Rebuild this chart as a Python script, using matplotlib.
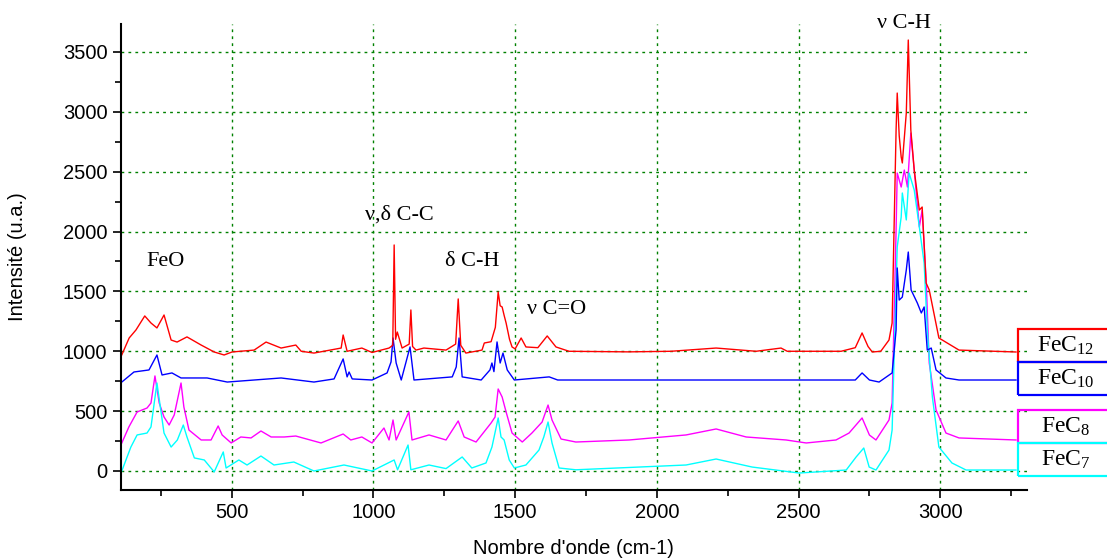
import matplotlib
matplotlib.use('Agg')
import matplotlib.pyplot as plt
from matplotlib.patches import Rectangle
from matplotlib.ticker import MultipleLocator

plt.rcParams['font.family'] = 'Liberation Sans'
plt.rcParams['font.size'] = 14
plt.rcParams['mathtext.fontset'] = 'custom'
plt.rcParams['mathtext.rm'] = 'Liberation Serif'
plt.rcParams['mathtext.it'] = 'Liberation Serif:italic'

# FeC12 (red)
x_c12 = [112, 138, 162, 193, 215, 236, 261, 286, 307, 342, 392, 438, 473, 501, 579, 621, 674,
         726, 745, 790, 886, 893, 907, 959, 995, 1055, 1068, 1073, 1078, 1084, 1101, 1126, 1132,
         1138, 1150, 1178, 1256, 1290, 1299, 1308, 1326, 1383, 1391, 1415, 1430, 1440, 1447, 1454,
         1461, 1468, 1480, 1489, 1500, 1521, 1538, 1580, 1613, 1644, 1690, 1900, 2050, 2209, 2350,
         2438, 2460, 2650, 2700, 2724, 2745, 2760, 2790, 2819, 2830, 2844, 2848, 2855, 2862, 2866,
         2880, 2887, 2896, 2908, 2926, 2936, 2950, 2961, 2995, 3066, 3267]
y_c12 = [970, 1111, 1178, 1295, 1236, 1195, 1303, 1094, 1077, 1120, 1052, 994, 969, 994, 1010, 1077, 1027,
         1052, 1000, 985, 1027, 1136, 1000, 1027, 990, 1027, 1050, 1888, 1100, 1161, 1027, 1060, 1345,
         1040, 1010, 1027, 1010, 1060, 1437, 1050, 985, 1010, 1069, 1080, 1200, 1495, 1380, 1370,
         1300, 1236, 1100, 1036, 1020, 1111, 1036, 1030, 1128, 1036, 1000, 995, 1000, 1027, 1000,
         1027, 1000, 1000, 1030, 1153, 1040, 994, 1000, 1094, 1236, 2848, 3157, 2800, 2623, 2573,
         2990, 3600, 2848, 2514, 2180, 2205, 1570, 1512, 1111, 1010, 994]

# FeC10 (blue)
x_c10 = [112, 155, 208, 236, 254, 289, 321, 413, 484, 674, 790, 861, 893, 907, 914, 925, 995, 1048,
         1062, 1069, 1080, 1098, 1129, 1143, 1278, 1292, 1302, 1313, 1380, 1411, 1418, 1425, 1436,
         1447, 1457, 1472, 1497, 1620, 1650, 2000, 2700, 2724, 2750, 2784, 2830, 2844, 2848, 2855,
         2866, 2880, 2887, 2897, 2919, 2933, 2943, 2954, 2968, 2985, 3020, 3066, 3267]
y_c10 = [743, 827, 844, 969, 802, 819, 777, 777, 743, 777, 743, 769, 936, 786, 827, 769, 760, 819,
         911, 1111, 902, 760, 1036, 760, 786, 869, 1111, 786, 760, 844, 902, 830, 1078,
         902, 985, 844, 760, 786, 760, 760, 760, 819, 760, 743, 819, 1178, 1696, 1428,
         1453, 1679, 1829, 1512, 1403, 1320, 1370, 1010, 1027, 844, 777, 760, 760]

# FeC8 (magenta)
x_c8 = [112, 137, 166, 201, 215, 229, 244, 261, 279, 297, 321, 331, 349, 392, 427, 452, 466, 498,
        532, 568, 603, 639, 685, 726, 815, 893, 920, 959, 995, 1037, 1055, 1069, 1080, 1125, 1136,
        1196, 1256, 1299, 1320, 1362, 1415, 1429, 1440, 1454, 1468, 1489, 1525, 1559, 1595, 1616,
        1630, 1662, 1714, 1902, 1983, 2103, 2209, 2315, 2456, 2527, 2632, 2678, 2724, 2750, 2773,
        2819, 2830, 2844, 2848, 2862, 2873, 2884, 2896, 2908, 2926, 2936, 2950, 2961, 2985, 3020,
        3066, 3267]
y_c8 = [234, 368, 493, 526, 568, 794, 568, 451, 384, 468, 735, 535, 342, 259, 259, 376, 301, 234,
        284, 276, 334, 284, 284, 292, 234, 309, 259, 284, 234, 359, 259, 426, 259, 493, 259,
        301, 259, 418, 284, 242, 401, 451, 685, 618, 493, 317, 242, 317, 409, 551,
        426, 267, 242, 259, 276, 301, 351, 284, 259, 234, 259, 317, 443, 300, 259,
        426, 568, 2013, 2489, 2372, 2514, 2372, 2823, 2514, 2038, 2180, 1595, 902, 510, 317,
        276, 259]

# FeC7 (cyan)
x_c7 = [112, 144, 166, 201, 215, 236, 251, 261, 286, 308, 329, 342, 368, 403, 438, 470, 480, 525,
        554, 603, 649, 719, 790, 896, 995, 1073, 1085, 1122, 1132, 1196, 1256, 1313, 1347, 1397,
        1418, 1440, 1450, 1461, 1479, 1497, 1538, 1584, 1601, 1616, 1630, 1655, 1714, 2103, 2209,
        2336, 2502, 2668, 2703, 2730, 2749, 2773, 2819, 2830, 2848, 2862, 2866, 2880, 2890, 2908,
        2926, 2943, 2954, 2972, 2995, 3041, 3091, 3267]
y_c7 = [0, 200, 301, 317, 368, 735, 484, 317, 200, 259, 384, 284, 109, 92, -8, 159, 25, 92,
        50, 125, 50, 75, 0, 50, 0, 92, 10, 217, 10, 50, 20, 117, 25, 67,
        200, 443, 284, 259, 92, 25, 50, 175, 284, 409, 234, 25, 10, 50, 100,
        33, -17, 8, 117, 192, 33, 8, 175, 342, 1871, 2122, 2322, 2097, 2489, 2347,
        2038, 1737, 1178, 618, 200, 67, 8, 8]

labels = ['FeC$_{12}$', 'FeC$_{10}$', 'FeC$_{8}$', 'FeC$_{7}$']
colors = ['#FF0000', '#0000FF', '#FF00FF', '#00FFFF']

bands = ['FeO', 'ν,δ C-C', 'δ C-H', 'ν C=O', 'ν C-H']
band_pos = [(265, 1746), (1090, 2138), (1348, 1746), (1645, 1345), (2870, 3742)]

fig = plt.figure(figsize=(11.07, 5.59), dpi=100)
ax = fig.add_axes([0.1090, 0.1234, 0.8185, 0.8337])

ax.plot(x_c8, y_c8, color=colors[2], lw=1)
ax.plot(x_c7, y_c7, color=colors[3], lw=1)
ax.plot(x_c10, y_c10, color=colors[1], lw=1)
ax.plot(x_c12, y_c12, color=colors[0], lw=1)

ax.set_xlim(108, 3305)
ax.set_ylim(-159, 3734)
ax.xaxis.set_major_locator(MultipleLocator(500))
ax.xaxis.set_minor_locator(MultipleLocator(250))
ax.yaxis.set_major_locator(MultipleLocator(500))
ax.yaxis.set_minor_locator(MultipleLocator(250))
ax.set_xticks([500, 1000, 1500, 2000, 2500, 3000])
ax.grid(True, which='major', color='#008000', linestyle=(0, (2, 3)), linewidth=1)
ax.tick_params(which='major', direction='out', length=6, width=1.2, labelsize=14.5)
ax.tick_params(which='minor', direction='out', length=4, width=1.2)
for s in ['top', 'right']:
    ax.spines[s].set_visible(False)
for s in ['left', 'bottom']:
    ax.spines[s].set_linewidth(1.5)

ax.set_xlabel("Nombre d'onde (cm-1)", labelpad=12, fontsize=14.5)
ax.set_ylabel('Intensité (u.a.)', labelpad=26, fontsize=14.5)

for t, (bx, by) in zip(bands, band_pos):
    ax.text(bx, by, t, family='Liberation Serif', fontsize=16, ha='center', va='center',
            clip_on=False)

# label boxes at right edge
box_rows = [(329, 362), (362, 395), (410, 443), (443, 476)]
for lab, col, (top, bot) in zip(labels, colors, box_rows):
    y0 = 1 - bot / 559
    h = (bot - top) / 559
    fig.patches.append(Rectangle((1017.7 / 1107, y0), 0.2, h, transform=fig.transFigure,
                                 fill=False, edgecolor=col, linewidth=1.6))
    fig.text(1066 / 1107, y0 + h / 2, lab, family='Liberation Serif', fontsize=17,
             ha='center', va='center')

fig.savefig('out.png', dpi=100)
